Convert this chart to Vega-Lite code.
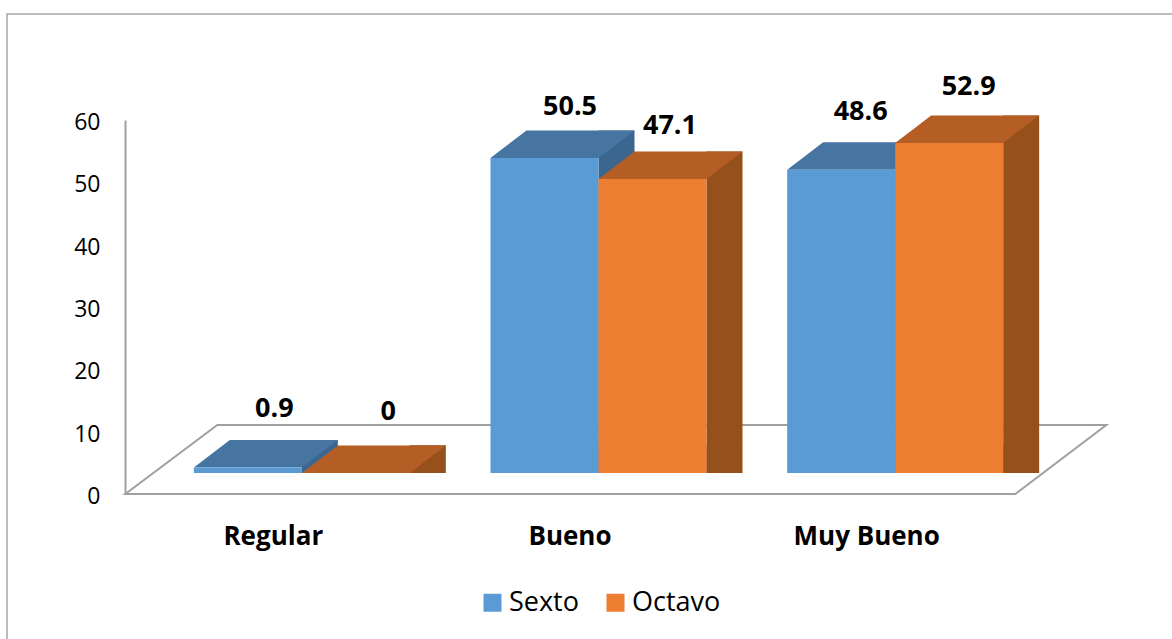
{
"$schema":"https://vega.github.io/schema/vega-lite/v6.json",
"width":1170,"height":630,
"autosize":{"type":"none"},
"padding":{"left":7,"top":14,"right":0,"bottom":0},
"background":"white",
"config":{"view":{"stroke":"#a6a6a6","strokeWidth":1.5},"font":"Open Sans"},
"data":{"values":[
{"category":"Regular","series":"Sexto","value":0.9},
{"category":"Regular","series":"Octavo","value":0},
{"category":"Bueno","series":"Sexto","value":50.5},
{"category":"Bueno","series":"Octavo","value":47.1},
{"category":"Muy Bueno","series":"Sexto","value":48.6},
{"category":"Muy Bueno","series":"Octavo","value":52.9}
]},
"encoding":{
"x":{"field":"category","type":"nominal","sort":["Regular","Bueno","Muy Bueno"],
 "scale":{"range":[146.5,1036.5],"paddingInner":0,"paddingOuter":0},
 "axis":{"title":null,"labelAngle":0,"domain":false,"ticks":false,"offset":-150,"labelOffset":-28.5,"labelBaseline":"middle","labelPadding":42,"labelFont":"Open Sans","labelFontSize":26,"labelFontWeight":"bold","labelColor":"#000000"}},
"xOffset":{"field":"series","type":"nominal","sort":["Sexto","Octavo"],"scale":{"paddingInner":0,"paddingOuter":0.3735}}
},
"resolve":{"scale":{"y":"independent"}},
"layer":[
{"mark":{"type":"point","opacity":0},
 "encoding":{"y":{"field":"value","type":"quantitative","scale":{"domain":[0,60],"range":[480,106],"nice":false},
  "axis":{"title":null,"offset":-118,"grid":false,"ticks":false,"values":[0,10,20,30,40,50,60],"domainColor":"#a0a0a0","domainWidth":2,"labelPadding":25,"labelOffset":2.5,"labelFont":"Open Sans","labelFontSize":23,"labelColor":"#000000"}}}},
{"encoding":{"y":{"field":"value","type":"quantitative","scale":{"domain":[0,60],"range":[459,84.6],"nice":false},"axis":null},
  "color":{"value":"#000"}},
 "layer":[
 {"transform":[{"filter":"datum.category==='Regular'&&datum.series==='Sexto'"}],
  "mark":{"type":"point","shape":"M-122.5,21L767.5,21L858.5,-48L-30.5,-48Z","size":4,"filled":false,"opacity":1,"strokeWidth":2},
  "encoding":{"y":{"datum":0},"color":{"value":"#a0a0a0"}}},
 {"transform":[{"filter":"datum.series==='Sexto'"}],"mark":{"type":"rule","strokeWidth":36,"xOffset":18,"yOffset":-27.5},
  "encoding":{"xOffset":null,"y2":{"datum":0},"color":{"value":"#3A6690"}}},
 {"transform":[{"filter":"datum.series==='Octavo'"}],"mark":{"type":"rule","strokeWidth":36,"xOffset":126,"yOffset":-27.5},
  "encoding":{"xOffset":null,"y2":{"datum":0},"color":{"value":"#95501C"}}},
 {"mark":{"type":"point","shape":"M54,0L90,-27.5L54,-27.5Z","size":4,"filled":true,"opacity":1},
  "encoding":{"y":{"datum":0},"color":{"condition":{"test":"datum.series==='Sexto'","value":"#3A6690"},"value":"#95501C"}}},
 {"mark":{"type":"point","shape":"M-54,0L-18,-27.5L90,-27.5L54,0Z","size":4,"filled":true,"opacity":1},
  "encoding":{"color":{"condition":{"test":"datum.series==='Sexto'","value":"#4675A2"},"value":"#B45D24"}}},
 {"mark":{"type":"bar"},
  "encoding":{"y2":{"datum":0},"color":{"field":"series","type":"nominal","sort":["Sexto","Octavo"],"scale":{"domain":["Sexto","Octavo"],"range":["#5B9BD5","#ED7D31"]},
   "legend":{"title":null,"orient":"none","legendX":472,"legendY":575,"direction":"horizontal","symbolType":"square","symbolSize":324,"symbolStrokeWidth":0,"labelFont":"Open Sans","labelFontSize":27,"labelColor":"#000000","columnPadding":23,"labelOffset":3}}}},
 {"transform":[{"filter":"datum.category==='Regular'&&datum.series==='Sexto'"}],"mark":{"type":"text","dx":26.5,"dy":-58.4,"font":"Open Sans","fontSize":27,"fontWeight":"bold"},"encoding":{"text":{"field":"value","type":"quantitative"}}},
 {"transform":[{"filter":"datum.category==='Regular'&&datum.series==='Octavo'"}],"mark":{"type":"text","dx":32.5,"dy":-61,"font":"Open Sans","fontSize":27,"fontWeight":"bold"},"encoding":{"text":{"field":"value","type":"quantitative"}}},
 {"transform":[{"filter":"datum.category==='Bueno'&&datum.series==='Sexto'"}],"mark":{"type":"text","dx":25.5,"dy":-51,"font":"Open Sans","fontSize":27,"fontWeight":"bold"},"encoding":{"text":{"field":"value","type":"quantitative"}}},
 {"transform":[{"filter":"datum.category==='Bueno'&&datum.series==='Octavo'"}],"mark":{"type":"text","dx":17.5,"dy":-53,"font":"Open Sans","fontSize":27,"fontWeight":"bold"},"encoding":{"text":{"field":"value","type":"quantitative"}}},
 {"transform":[{"filter":"datum.category==='Muy Bueno'&&datum.series==='Sexto'"}],"mark":{"type":"text","dx":19.5,"dy":-58,"font":"Open Sans","fontSize":27,"fontWeight":"bold"},"encoding":{"text":{"field":"value","type":"quantitative"}}},
 {"transform":[{"filter":"datum.category==='Muy Bueno'&&datum.series==='Octavo'"}],"mark":{"type":"text","dx":19.5,"dy":-56,"font":"Open Sans","fontSize":27,"fontWeight":"bold"},"encoding":{"text":{"field":"value","type":"quantitative"}}}
 ]}
]
}
